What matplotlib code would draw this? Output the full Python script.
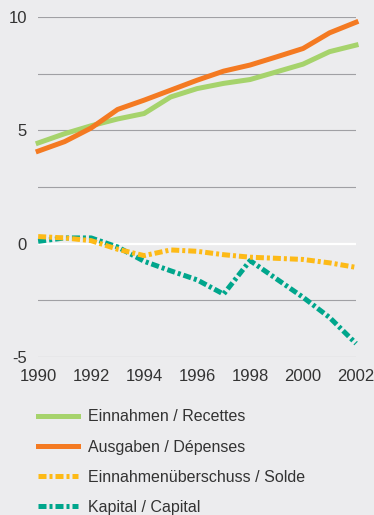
import matplotlib
matplotlib.use('Agg')
from matplotlib import pyplot as plt

years = list(range(1990, 2003))
einnahmen = [4.44, 4.85, 5.2, 5.5, 5.74, 6.47, 6.84, 7.07, 7.24, 7.58, 7.92, 8.47, 8.76]
ausgaben = [4.08, 4.5, 5.1, 5.92, 6.33, 6.77, 7.21, 7.61, 7.88, 8.24, 8.61, 9.3, 9.77]
solde = [0.31, 0.25, 0.13, -0.25, -0.53, -0.28, -0.34, -0.49, -0.6, -0.65, -0.7, -0.85, -1.05]
kapital = [0.1, 0.25, 0.25, -0.15, -0.78, -1.2, -1.6, -2.23, -0.75, -1.56, -2.37, -3.26, -4.41]

labels = ['Einnahmen / Recettes', 'Ausgaben / Dépenses',
          'Einnahmenüberschuss / Solde', 'Kapital / Capital']
colors = ['#a6d36c', '#f47a22', '#fdba17', '#00a68c']

plt.rcParams['font.family'] = ['Liberation Sans Narrow', 'Liberation Sans', 'DejaVu Sans']
plt.rcParams['axes.unicode_minus'] = False
bg = '#ececee'
txt = '#333333'

fig = plt.figure(figsize=(3.74, 5.15), dpi=100, facecolor=bg)
ax = fig.add_axes([0.102, 0.307, 0.85, 0.66], facecolor=bg)

for y in [10, 7.5, 5, 2.5, -2.5, -5]:
    ax.axhline(y, color='#a0a0a4', lw=0.8, zorder=1)
ax.axhline(0, color='white', lw=1.6, zorder=1)

dd = (0, (1.6, 0.6, 0.6, 0.6))
ax.plot(years, einnahmen, color=colors[0], lw=3.6, label=labels[0], clip_on=False, zorder=3)
ax.plot(years, ausgaben, color=colors[1], lw=3.6, label=labels[1], clip_on=False, zorder=3)
ax.plot(years, solde, color=colors[2], lw=3.6, ls=dd, label=labels[2], clip_on=False, zorder=4)
ax.plot(years, kapital, color=colors[3], lw=3.6, ls=dd, label=labels[3], clip_on=False, zorder=3)

ax.set_xlim(1990, 2002)
ax.set_ylim(-5, 10)
ax.set_xticks(range(1990, 2003, 2))
ax.set_yticks([-5, 0, 5, 10])
ax.tick_params(length=0, labelsize=12, colors=txt)
ax.tick_params(axis='x', pad=9)
ax.tick_params(axis='y', pad=8)
for s in ax.spines.values():
    s.set_visible(False)

fig.legend(loc='upper left', bbox_to_anchor=(0.1016, 0.205), frameon=False,
           fontsize=11.5, handlelength=2.5, labelspacing=0.95, handletextpad=0.6,
           borderpad=0, borderaxespad=0, labelcolor=txt)

plt.savefig('out.png', dpi=100, facecolor=bg)
